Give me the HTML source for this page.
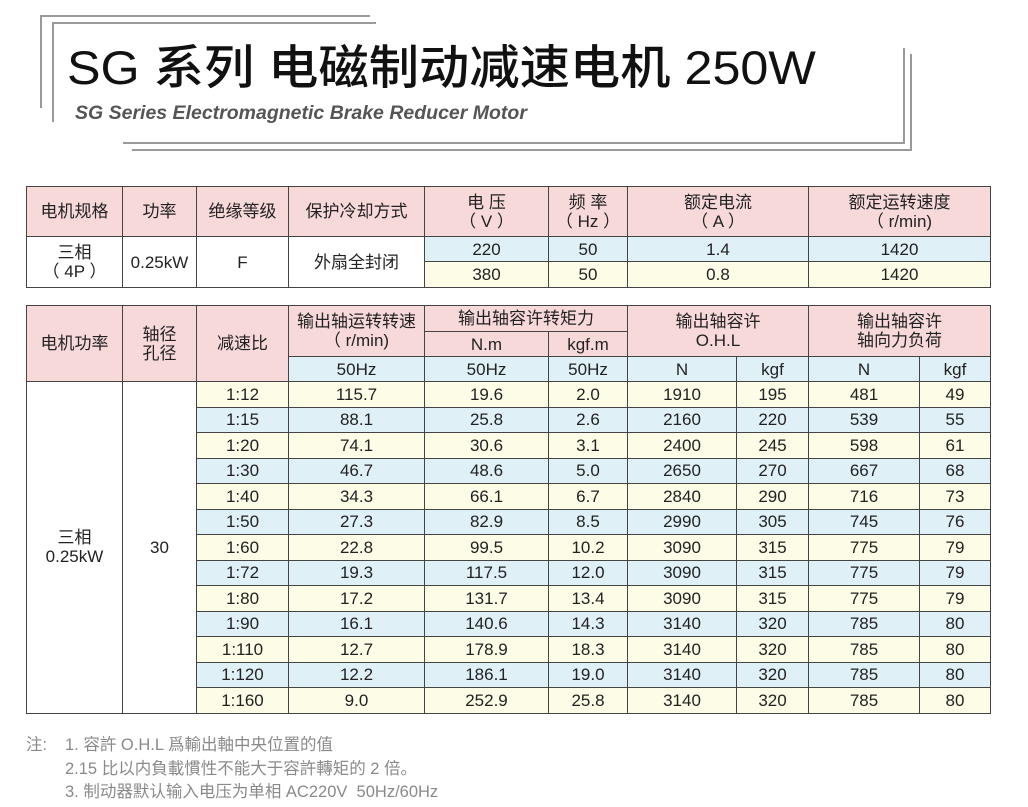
<!DOCTYPE html>
<html><head><meta charset="utf-8"><style>
*{margin:0;padding:0;box-sizing:border-box}
body{width:1028px;height:807px;background:#fff;position:relative;overflow:hidden;font-family:"Liberation Sans","Noto Sans CJK SC",sans-serif;color:#222}
.ln{position:absolute;background:#9a9a9a}
.t{position:absolute;border-collapse:collapse;table-layout:fixed;left:26px;width:964px}
.t td{border:1.5px solid #444;text-align:center;vertical-align:middle;font-size:17px;line-height:19px;padding:0;overflow:hidden;white-space:nowrap}
.p{background:#f8d9da}.b{background:#e0f0f7}.y{background:#fdfce6}.w{background:#fff}
.n{position:absolute;color:#8a8a8a;font-size:16.5px;white-space:nowrap}
</style></head><body>
<div class="ln" style="left:40px;top:15px;width:330px;height:2px"></div>
<div class="ln" style="left:52px;top:22px;width:324px;height:2px"></div>
<div class="ln" style="left:40px;top:15px;width:2px;height:93px"></div>
<div class="ln" style="left:52px;top:22px;width:2px;height:100px"></div>
<div class="ln" style="left:123px;top:142px;width:782px;height:2px"></div>
<div class="ln" style="left:132px;top:149px;width:780px;height:2px"></div>
<div class="ln" style="left:903px;top:48px;width:2px;height:96px"></div>
<div class="ln" style="left:910px;top:54px;width:2px;height:97px"></div>
<div style="position:absolute;left:67px;top:40px;font-size:47px;line-height:56px;color:#111;font-weight:500;white-space:nowrap;transform:scaleX(1.07);transform-origin:left top">SG 系列 电磁制动减速电机 250W</div>
<div style="position:absolute;left:75px;top:102px;font-size:19.5px;font-weight:bold;font-style:italic;color:#555;white-space:nowrap">SG Series Electromagnetic Brake Reducer Motor</div>

<table class="t" style="top:186px">
<colgroup><col style="width:96px"><col style="width:74px"><col style="width:92px"><col style="width:136px"><col style="width:124px"><col style="width:79px"><col style="width:181px"><col style="width:182px"></colgroup>
<tr style="height:50px"><td class="p">电机规格</td><td class="p">功率</td><td class="p">绝缘等级</td><td class="p">保护冷却方式</td><td class="p">电 压<br>（ V ）</td><td class="p">频 率<br>（ Hz ）</td><td class="p">额定电流<br>（ A ）</td><td class="p">额定运转速度<br>（ r/min)</td></tr>
<tr style="height:25px"><td class="w" rowspan="2">三相<br>（ 4P ）</td><td class="w" rowspan="2">0.25kW</td><td class="w" rowspan="2">F</td><td class="w" rowspan="2">外扇全封闭</td><td class="b">220</td><td class="b">50</td><td class="b">1.4</td><td class="b">1420</td></tr>
<tr style="height:26px"><td class="y">380</td><td class="y">50</td><td class="y">0.8</td><td class="y">1420</td></tr>
</table>

<table class="t" style="top:305px">
<colgroup><col style="width:96px"><col style="width:74px"><col style="width:92px"><col style="width:136px"><col style="width:124px"><col style="width:79px"><col style="width:109px"><col style="width:72px"><col style="width:111px"><col style="width:71px"></colgroup>
<tr style="height:26px"><td class="p" rowspan="3">电机功率</td><td class="p" rowspan="3">轴径<br>孔径</td><td class="p" rowspan="3">减速比</td><td class="p" rowspan="2">输出轴运转转速<br>（ r/min)</td><td class="p" colspan="2">输出轴容许转矩力</td><td class="p" colspan="2" rowspan="2">输出轴容许<br>O.H.L</td><td class="p" colspan="2" rowspan="2">输出轴容许<br>轴向力负荷</td></tr>
<tr style="height:25px"><td class="p">N.m</td><td class="p">kgf.m</td></tr>
<tr style="height:25px"><td class="b">50Hz</td><td class="b">50Hz</td><td class="b">50Hz</td><td class="b">N</td><td class="b">kgf</td><td class="b">N</td><td class="b">kgf</td></tr>
<tr style="height:25.5px"><td class="w" rowspan="13">三相<br>0.25kW</td><td class="w" rowspan="13">30</td><td class="y">1:12</td><td class="y">115.7</td><td class="y">19.6</td><td class="y">2.0</td><td class="y">1910</td><td class="y">195</td><td class="y">481</td><td class="y">49</td></tr>
<tr style="height:25.5px"><td class="b">1:15</td><td class="b">88.1</td><td class="b">25.8</td><td class="b">2.6</td><td class="b">2160</td><td class="b">220</td><td class="b">539</td><td class="b">55</td></tr>
<tr style="height:25.5px"><td class="y">1:20</td><td class="y">74.1</td><td class="y">30.6</td><td class="y">3.1</td><td class="y">2400</td><td class="y">245</td><td class="y">598</td><td class="y">61</td></tr>
<tr style="height:25.5px"><td class="b">1:30</td><td class="b">46.7</td><td class="b">48.6</td><td class="b">5.0</td><td class="b">2650</td><td class="b">270</td><td class="b">667</td><td class="b">68</td></tr>
<tr style="height:25.5px"><td class="y">1:40</td><td class="y">34.3</td><td class="y">66.1</td><td class="y">6.7</td><td class="y">2840</td><td class="y">290</td><td class="y">716</td><td class="y">73</td></tr>
<tr style="height:25.5px"><td class="b">1:50</td><td class="b">27.3</td><td class="b">82.9</td><td class="b">8.5</td><td class="b">2990</td><td class="b">305</td><td class="b">745</td><td class="b">76</td></tr>
<tr style="height:25.5px"><td class="y">1:60</td><td class="y">22.8</td><td class="y">99.5</td><td class="y">10.2</td><td class="y">3090</td><td class="y">315</td><td class="y">775</td><td class="y">79</td></tr>
<tr style="height:25.5px"><td class="b">1:72</td><td class="b">19.3</td><td class="b">117.5</td><td class="b">12.0</td><td class="b">3090</td><td class="b">315</td><td class="b">775</td><td class="b">79</td></tr>
<tr style="height:25.5px"><td class="y">1:80</td><td class="y">17.2</td><td class="y">131.7</td><td class="y">13.4</td><td class="y">3090</td><td class="y">315</td><td class="y">775</td><td class="y">79</td></tr>
<tr style="height:25.5px"><td class="b">1:90</td><td class="b">16.1</td><td class="b">140.6</td><td class="b">14.3</td><td class="b">3140</td><td class="b">320</td><td class="b">785</td><td class="b">80</td></tr>
<tr style="height:25.5px"><td class="y">1:110</td><td class="y">12.7</td><td class="y">178.9</td><td class="y">18.3</td><td class="y">3140</td><td class="y">320</td><td class="y">785</td><td class="y">80</td></tr>
<tr style="height:25.5px"><td class="b">1:120</td><td class="b">12.2</td><td class="b">186.1</td><td class="b">19.0</td><td class="b">3140</td><td class="b">320</td><td class="b">785</td><td class="b">80</td></tr>
<tr style="height:25.5px"><td class="y">1:160</td><td class="y">9.0</td><td class="y">252.9</td><td class="y">25.8</td><td class="y">3140</td><td class="y">320</td><td class="y">785</td><td class="y">80</td></tr>
</table>

<div class="n" style="left:26px;top:731px">注:</div>
<div class="n" style="left:65px;top:731px">1. 容許 O.H.L 爲輸出軸中央位置的值</div>
<div class="n" style="left:65px;top:755px">2.15 比以内負載慣性不能大于容許轉矩的 2 倍。</div>
<div class="n" style="left:65px;top:778px">3. 制动器默认输入电压为单相 AC220V&nbsp; 50Hz/60Hz</div>
</body></html>
